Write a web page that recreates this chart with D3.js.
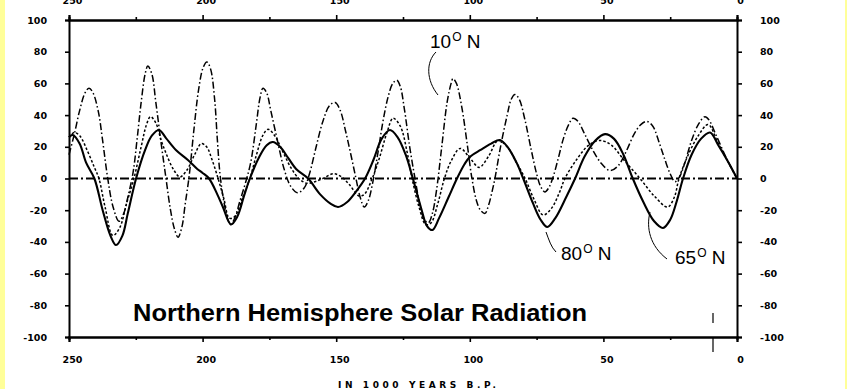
<!DOCTYPE html>
<html>
<head>
<meta charset="utf-8">
<script src="https://cdn.jsdelivr.net/npm/d3@7"></script>
<style>
  html, body { margin: 0; padding: 0; background: #ffff99; }
  svg { display: block; }
</style>
</head>
<body>
<svg id="chart" width="847" height="389"></svg>
<script>
// ---------- data (ka B.P., insolation anomaly) ----------
const xTicks = [250, 200, 150, 100, 50, 0];
const xMinorTicks = [225, 175, 125, 75, 25];
const yTicks = [100, 80, 60, 40, 20, 0, -20, -40, -60, -80, -100];

const series65 = [
  [250,26],[248.6,27.5],[246,22],[243.6,10],[240.5,0],[237.4,-20],[234.5,-36],[232.4,-42],[230,-36],[228,-22],
  [224.9,0],[221.5,18],[219,27],[216.3,30.6],[213.7,25.5],[210,18],[205.5,11.7],[202,6],[200,3.5],[197.6,0],
  [194.5,-10],[192.4,-18],[189.4,-29],[187,-24],[184.5,-11],[182.3,0],[179,13],[176,21],[173.7,23],[171,20],
  [168,13],[165,6],[160.5,0],[156,-10],[152,-16],[149.3,-18],[146,-15],[142.5,-8],[139.2,0],[136,12],
  [133,25],[129.9,30.6],[127,26],[124,15],[121.3,0],[118,-20],[116,-30],[114,-32.5],[111.5,-25],[108,-12],
  [104.8,0],[102,9],[100,13.6],[96,18],[92,22],[88.7,24.3],[85.5,19],[82.5,10],[80,0],[76.5,-15],
  [73.5,-26],[71,-30.6],[68,-25],[64,-12],[60.6,0],[57,14],[53,24],[49.4,28],[46,25],[42.5,15],
  [39,0],[35,-15],[31,-27],[27.7,-31.2],[25,-26],[22.5,-14],[20.2,0],[17,15],[13.5,25],[10.1,29],
  [7,21],[3.5,11],[0,0]
];

const series80 = [
  [250,26],[248,29],[246,27],[243,17],[240.5,7],[238.8,0],[236.5,-18],[233.6,-36],[231,-31],[228.5,-16],
  [225.7,0],[223,20],[221,34],[219.5,39],[217.5,35],[215.5,24],[213.7,16],[211,6],[208.5,1],[206,5],
  [203,15],[200.5,22],[198.5,20],[196.5,12],[194.2,0],[192,-13],[190,-25],[188,-24],[185,-12],[182.3,0],
  [180,14],[177.5,27],[175.5,31],[173,27],[170,17],[167,7],[164,0],[161,-3],[158,-2],[155,0],
  [151,3],[148,1],[145,-4],[141.5,-11],[139.5,-10],[137,-2],[134,12],[131,29],[128.7,38],[126,33],
  [123.5,17],[121.6,0],[119,-18],[116.5,-29],[114.5,-28],[112,-16],[109.5,0],[107,11],[103.6,19],[100,13],
  [96.5,7],[93,14],[89.4,24],[86,20],[82.5,10],[79.3,0],[76,-13],[72.6,-23],[69.5,-19],[66.5,-9],
  [64.4,0],[60,12],[55.5,21],[51.3,24],[47,21],[42,11],[36.3,0],[31,-11],[26,-18],[23.5,-12],
  [21.7,0],[18.5,14],[14.5,27],[10.8,34],[7,22],[3.5,11],[0,0]
];

const series10 = [
  [250,15],[248,28],[246,43],[244,54],[242.5,57],[241,54],[239,42],[237.5,25],[235.5,0],[233.5,-18],
  [231.3,-27],[229.5,-22],[228,-12],[226,4],[224.5,25],[223,48],[221.5,66],[220.5,71],[219,66],[217.5,48],
  [215.5,22],[213.7,0],[212,-20],[210.5,-32],[209.2,-37],[207.8,-31],[206.5,-16],[205,2],[203.3,30],[201.5,56],
  [199.8,70],[198.4,73.5],[197,69],[195.5,50],[194.5,25],[193.5,3],[192,-15],[190.5,-26],[189.5,-29],[188,-25],
  [186,-14],[184,-3],[182,10],[180,33],[178.5,51],[177.4,57],[176,54],[174.5,43],[172,24],[169.5,6],
  [167,-5],[164.5,-9],[162,-6],[160,3],[157.5,20],[155,36],[152.5,46],[150.4,48],[148.5,43],[146.5,30],
  [144.5,15],[142.6,0],[141,-12],[139.5,-18],[138,-14],[136.5,-4],[134.5,15],[132.5,36],[130.5,52],[128.8,60],
  [127.3,62],[126,58],[124.5,44],[122.5,20],[120.5,0],[118.5,-18],[117,-26],[115.5,-28],[114,-22],[112.5,-8],
  [110.5,20],[108.5,48],[107,60],[106.3,63],[105,60],[103,45],[101,22],[99.2,0],[97.5,-14],[96,-20],
  [94.3,-22],[93,-17],[91.5,-7],[90.6,0],[88.5,20],[86,40],[84.5,50],[83.1,53],[81.5,50],[79.5,38],
  [77,18],[75,3],[73.5,-5],[71.9,-8.5],[70.5,-6],[69,0],[67,12],[65,25],[63,34],[61.4,38],
  [59.5,36],[57,28],[54,18],[51,10],[47.5,5],[44.5,8],[41.5,17],[38.5,28],[36,34],[33.7,36],
  [31.5,33],[29,22],[27,12],[25,3],[23.2,-2],[21.5,1],[19.5,10],[17,24],[14.5,34],[12,39],
  [10.5,37],[8,28],[4,13],[0,0]
];

const chartTitle = "Northern Hemisphere Solar Radiation";
const xAxisTitle = "IN 1000 YEARS B.P.";
const seriesLabels = [
  { num: "10", lat: 10 },
  { num: "80", lat: 80 },
  { num: "65", lat: 65 }
];

// ---------- layout ----------
const svg = d3.select("#chart");
const L = 69, R = 737, T = 20, B = 337;
const x = d3.scaleLinear().domain([250, 0]).range([L, R]);
const y = d3.scaleLinear().domain([-100, 100]).range([B, T]);

svg.append("rect").attr("x", 5).attr("y", 0).attr("width", 840).attr("height", 389).attr("fill", "#ffffff");

const tickFont = "'DejaVu Sans', sans-serif";

// axes
const gLeft = svg.append("g").attr("transform", `translate(${L},0)`)
  .call(d3.axisLeft(y).tickValues(yTicks).tickSize(4).tickPadding(18).tickFormat(d => d < 0 ? "-" + Math.abs(d) : d));
const gRight = svg.append("g").attr("transform", `translate(${R},0)`)
  .call(d3.axisRight(y).tickValues(yTicks).tickSize(5).tickPadding(18).tickFormat(d => d < 0 ? "-" + Math.abs(d) : d));
const gBottom = svg.append("g").attr("transform", `translate(0,${B})`)
  .call(d3.axisBottom(x).tickValues(xTicks).tickSize(5).tickPadding(14));
const gBottomMinor = svg.append("g").attr("transform", `translate(0,${B})`)
  .call(d3.axisBottom(x).tickValues(xMinorTicks).tickSize(3).tickFormat(""));
const gTop = svg.append("g").attr("transform", `translate(0,${T})`)
  .call(d3.axisTop(x).tickValues(xTicks).tickSize(5).tickPadding(11));
const gTopMinor = svg.append("g").attr("transform", `translate(0,${T})`)
  .call(d3.axisTop(x).tickValues(xMinorTicks).tickSize(3).tickFormat(""));

[gLeft, gRight, gBottom, gBottomMinor, gTop, gTopMinor].forEach(g => {
  g.select(".domain").attr("stroke", "#000").attr("stroke-width", 2);
  g.selectAll(".tick line").attr("stroke", "#000").attr("stroke-width", 1.6);
  g.selectAll(".tick text").attr("font-family", tickFont).attr("font-size", 9.5)
    .attr("font-weight", "bold").attr("fill", "#000");
});
gBottom.selectAll(".tick text").attr("dx", 3);
gTop.selectAll(".tick text").attr("dx", 3);

// axis title
svg.append("text").attr("x", 417).attr("y", 388)
  .attr("text-anchor", "middle").attr("font-family", tickFont).attr("font-size", 9)
  .attr("font-weight", "bold").attr("textLength", 158).attr("lengthAdjust", "spacing")
  .text(xAxisTitle);

// zero line
svg.append("line").attr("x1", x(250)).attr("x2", x(0)).attr("y1", y(0)).attr("y2", y(0))
  .attr("stroke", "#000").attr("stroke-width", 1.8).attr("stroke-dasharray", "9,3,2,3");

// curves
const line = d3.line().x(d => x(d[0])).y(d => y(d[1])).curve(d3.curveCatmullRom.alpha(0.5));
svg.append("path").datum(series10).attr("d", line).attr("fill", "none")
  .attr("stroke", "#000").attr("stroke-width", 1.5).attr("stroke-dasharray", "7,2.5,1.5,2.5");
svg.append("path").datum(series80).attr("d", line).attr("fill", "none")
  .attr("stroke", "#000").attr("stroke-width", 1.5).attr("stroke-dasharray", "2.5,2");
svg.append("path").datum(series65).attr("d", line).attr("fill", "none")
  .attr("stroke", "#000").attr("stroke-width", 2.1);

// title
svg.append("text").attr("x", 133).attr("y", 321)
  .attr("font-family", "'Liberation Sans', Arial, sans-serif").attr("font-size", 23)
  .attr("font-weight", "bold").attr("textLength", 454).attr("lengthAdjust", "spacingAndGlyphs")
  .text(chartTitle);

// series labels
const labelPos = { 10: [430, 48], 80: [561, 260], 65: [675, 264] };
seriesLabels.forEach(s => {
  const p = labelPos[s.lat];
  const t = svg.append("text").attr("x", p[0]).attr("y", p[1])
    .attr("font-family", "'Liberation Sans', Arial, sans-serif").attr("font-size", 19).attr("fill", "#000");
  t.append("tspan").text(s.num);
  t.append("tspan").attr("font-size", 12).attr("dy", -7).attr("dx", 1).text("O");
  t.append("tspan").attr("dy", 7).text(" N");
});

// leader lines
const leaders = [
  "M436,52 C426,62 426,80 438,95",
  "M546,232 C549,240 551,247 556,252",
  "M650,212 C646,228 650,246 667,259"
];
leaders.forEach(d => svg.append("path").attr("d", d).attr("fill", "none")
  .attr("stroke", "#000").attr("stroke-width", 1));

// stray marks from the original
svg.append("line").attr("x1", 713).attr("x2", 713).attr("y1", 313).attr("y2", 323).attr("stroke", "#000").attr("stroke-width", 1.2);
svg.append("line").attr("x1", 713).attr("x2", 713).attr("y1", 337).attr("y2", 352).attr("stroke", "#000").attr("stroke-width", 1.2);
</script>
</body>
</html>
